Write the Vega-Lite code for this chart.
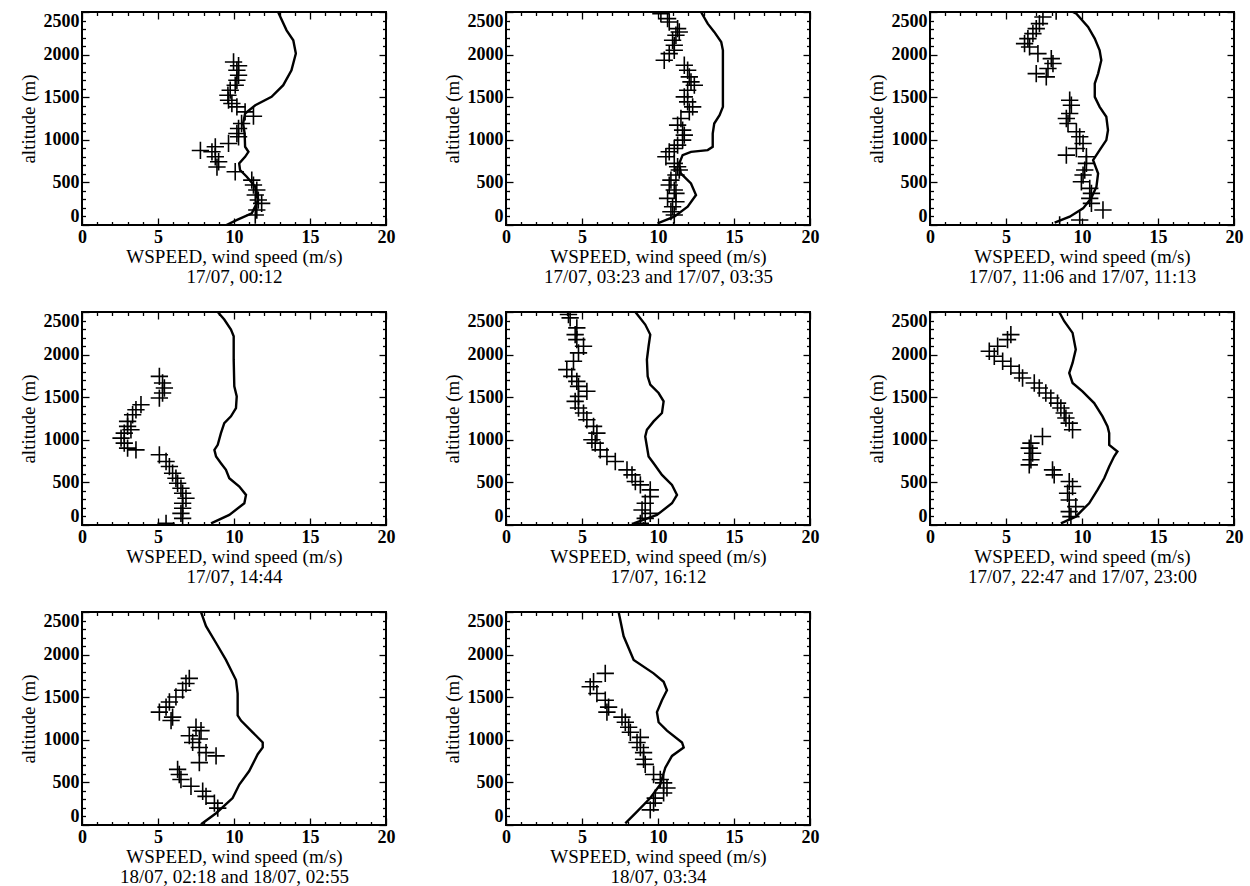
{
"$schema":"https://vega.github.io/schema/vega-lite/v6.json",
"background":"white",
"padding":{"left":18,"top":10,"right":5,"bottom":0},
"datasets":{
"mod":[
{"p":1,"ws":9.5,"alt":0},{"p":1,"ws":10.2,"alt":60},{"p":1,"ws":11.17,"alt":137},{"p":1,"ws":11.6,"alt":293},{"p":1,"ws":11.4,"alt":450},{"p":1,"ws":10.84,"alt":566},{"p":1,"ws":10.4,"alt":645},{"p":1,"ws":10.34,"alt":723},{"p":1,"ws":10.73,"alt":800},{"p":1,"ws":10.95,"alt":859},{"p":1,"ws":10.73,"alt":918},{"p":1,"ws":10.7,"alt":1074},{"p":1,"ws":10.6,"alt":1191},{"p":1,"ws":10.73,"alt":1309},{"p":1,"ws":11.4,"alt":1406},{"p":1,"ws":12.47,"alt":1504},{"p":1,"ws":13.24,"alt":1641},{"p":1,"ws":13.78,"alt":1816},{"p":1,"ws":14.07,"alt":2012},{"p":1,"ws":13.9,"alt":2168},{"p":1,"ws":13.46,"alt":2285},{"p":1,"ws":12.9,"alt":2500},
{"p":2,"ws":9.97,"alt":20},{"p":2,"ws":11.07,"alt":98},{"p":2,"ws":11.95,"alt":215},{"p":2,"ws":12.5,"alt":352},{"p":2,"ws":12.17,"alt":488},{"p":2,"ws":11.5,"alt":605},{"p":2,"ws":11.4,"alt":723},{"p":2,"ws":11.62,"alt":820},{"p":2,"ws":12.17,"alt":859},{"p":2,"ws":13.27,"alt":879},{"p":2,"ws":13.6,"alt":918},{"p":2,"ws":13.6,"alt":1074},{"p":2,"ws":13.7,"alt":1191},{"p":2,"ws":14.05,"alt":1289},{"p":2,"ws":14.27,"alt":1387},{"p":2,"ws":14.27,"alt":1660},{"p":2,"ws":14.27,"alt":2051},{"p":2,"ws":14.16,"alt":2148},{"p":2,"ws":13.7,"alt":2266},{"p":2,"ws":13.27,"alt":2363},{"p":2,"ws":12.83,"alt":2500},
{"p":3,"ws":8.2,"alt":27},{"p":3,"ws":9.19,"alt":98},{"p":3,"ws":10.07,"alt":195},{"p":3,"ws":10.6,"alt":313},{"p":3,"ws":10.95,"alt":449},{"p":3,"ws":11.06,"alt":605},{"p":3,"ws":10.73,"alt":762},{"p":3,"ws":11.16,"alt":879},{"p":3,"ws":11.6,"alt":996},{"p":3,"ws":11.71,"alt":1113},{"p":3,"ws":11.6,"alt":1270},{"p":3,"ws":11.16,"alt":1387},{"p":3,"ws":10.84,"alt":1504},{"p":3,"ws":10.84,"alt":1660},{"p":3,"ws":11.06,"alt":1777},{"p":3,"ws":11.27,"alt":1934},{"p":3,"ws":11.16,"alt":2051},{"p":3,"ws":10.84,"alt":2188},{"p":3,"ws":10.4,"alt":2324},{"p":3,"ws":9.63,"alt":2480},{"p":3,"ws":9.4,"alt":2500},
{"p":4,"ws":8.49,"alt":20},{"p":4,"ws":9.69,"alt":118},{"p":4,"ws":10.68,"alt":255},{"p":4,"ws":10.79,"alt":353},{"p":4,"ws":10.35,"alt":451},{"p":4,"ws":9.69,"alt":549},{"p":4,"ws":9.47,"alt":647},{"p":4,"ws":9.14,"alt":725},{"p":4,"ws":8.82,"alt":804},{"p":4,"ws":8.71,"alt":882},{"p":4,"ws":8.93,"alt":941},{"p":4,"ws":9.14,"alt":1078},{"p":4,"ws":9.36,"alt":1196},{"p":4,"ws":9.8,"alt":1275},{"p":4,"ws":10.13,"alt":1373},{"p":4,"ws":10.18,"alt":1510},{"p":4,"ws":10.02,"alt":1627},{"p":4,"ws":9.98,"alt":1941},{"p":4,"ws":9.98,"alt":2216},{"p":4,"ws":9.8,"alt":2294},{"p":4,"ws":9.36,"alt":2412},{"p":4,"ws":8.93,"alt":2500},
{"p":5,"ws":8.4,"alt":20},{"p":5,"ws":9.93,"alt":118},{"p":5,"ws":10.92,"alt":255},{"p":5,"ws":11.25,"alt":353},{"p":5,"ws":10.92,"alt":471},{"p":5,"ws":10.26,"alt":588},{"p":5,"ws":9.71,"alt":725},{"p":5,"ws":9.38,"alt":804},{"p":5,"ws":9.27,"alt":922},{"p":5,"ws":9.16,"alt":1039},{"p":5,"ws":9.27,"alt":1118},{"p":5,"ws":9.71,"alt":1216},{"p":5,"ws":10.26,"alt":1314},{"p":5,"ws":10.37,"alt":1451},{"p":5,"ws":10.04,"alt":1549},{"p":5,"ws":9.49,"alt":1647},{"p":5,"ws":9.32,"alt":1745},{"p":5,"ws":9.27,"alt":1941},{"p":5,"ws":9.38,"alt":2098},{"p":5,"ws":9.49,"alt":2235},{"p":5,"ws":9.16,"alt":2353},{"p":5,"ws":8.51,"alt":2500},
{"p":6,"ws":8.61,"alt":20},{"p":6,"ws":9.59,"alt":98},{"p":6,"ws":10.47,"alt":255},{"p":6,"ws":11.02,"alt":412},{"p":6,"ws":11.46,"alt":549},{"p":6,"ws":11.79,"alt":686},{"p":6,"ws":12.11,"alt":804},{"p":6,"ws":12.33,"alt":863},{"p":6,"ws":11.79,"alt":941},{"p":6,"ws":11.79,"alt":1078},{"p":6,"ws":11.68,"alt":1157},{"p":6,"ws":11.35,"alt":1275},{"p":6,"ws":10.8,"alt":1431},{"p":6,"ws":10.03,"alt":1569},{"p":6,"ws":9.38,"alt":1667},{"p":6,"ws":9.16,"alt":1784},{"p":6,"ws":9.38,"alt":1902},{"p":6,"ws":9.59,"alt":2059},{"p":6,"ws":9.38,"alt":2255},{"p":6,"ws":8.83,"alt":2392},{"p":6,"ws":8.5,"alt":2500},
{"p":7,"ws":7.83,"alt":8},{"p":7,"ws":8.82,"alt":138},{"p":7,"ws":9.91,"alt":316},{"p":7,"ws":10.35,"alt":475},{"p":7,"ws":11.0,"alt":633},{"p":7,"ws":11.56,"alt":831},{"p":7,"ws":11.89,"alt":910},{"p":7,"ws":11.89,"alt":969},{"p":7,"ws":11.23,"alt":1088},{"p":7,"ws":10.46,"alt":1226},{"p":7,"ws":10.24,"alt":1286},{"p":7,"ws":10.24,"alt":1543},{"p":7,"ws":10.13,"alt":1701},{"p":7,"ws":9.47,"alt":1938},{"p":7,"ws":8.82,"alt":2136},{"p":7,"ws":8.16,"alt":2334},{"p":7,"ws":7.83,"alt":2500},
{"p":8,"ws":7.85,"alt":20},{"p":8,"ws":8.62,"alt":158},{"p":8,"ws":9.49,"alt":316},{"p":8,"ws":10.15,"alt":475},{"p":8,"ws":10.48,"alt":672},{"p":8,"ws":10.92,"alt":811},{"p":8,"ws":11.69,"alt":910},{"p":8,"ws":11.58,"alt":969},{"p":8,"ws":10.59,"alt":1108},{"p":8,"ws":10.04,"alt":1206},{"p":8,"ws":9.93,"alt":1325},{"p":8,"ws":10.26,"alt":1464},{"p":8,"ws":10.59,"alt":1582},{"p":8,"ws":10.37,"alt":1681},{"p":8,"ws":9.71,"alt":1780},{"p":8,"ws":8.4,"alt":1938},{"p":8,"ws":7.74,"alt":2215},{"p":8,"ws":7.41,"alt":2500}
],
"obs":[
{"p":1,"ws":9.97,"alt":1914},{"p":1,"ws":10.3,"alt":1870},{"p":1,"ws":10.19,"alt":1816},{"p":1,"ws":10.3,"alt":1758},{"p":1,"ws":10.19,"alt":1699},{"p":1,"ws":10.08,"alt":1641},{"p":1,"ws":9.75,"alt":1582},{"p":1,"ws":9.6,"alt":1523},{"p":1,"ws":9.64,"alt":1465},{"p":1,"ws":9.86,"alt":1426},{"p":1,"ws":10.19,"alt":1387},{"p":1,"ws":10.73,"alt":1328},{"p":1,"ws":11.28,"alt":1277},{"p":1,"ws":10.5,"alt":1191},{"p":1,"ws":10.3,"alt":1133},{"p":1,"ws":10.19,"alt":1074},{"p":1,"ws":10.3,"alt":1035},{"p":1,"ws":9.64,"alt":957},{"p":1,"ws":8.77,"alt":918},{"p":1,"ws":8.55,"alt":859},{"p":1,"ws":7.79,"alt":875},{"p":1,"ws":8.77,"alt":801},{"p":1,"ws":8.99,"alt":742},{"p":1,"ws":8.88,"alt":680},{"p":1,"ws":10.08,"alt":625},{"p":1,"ws":11.17,"alt":527},{"p":1,"ws":11.28,"alt":469},{"p":1,"ws":11.5,"alt":410},{"p":1,"ws":11.4,"alt":352},{"p":1,"ws":11.6,"alt":293},{"p":1,"ws":11.82,"alt":254},{"p":1,"ws":11.5,"alt":176},{"p":1,"ws":11.4,"alt":117},
{"p":2,"ws":10.19,"alt":2480},{"p":2,"ws":10.63,"alt":2422},{"p":2,"ws":10.74,"alt":2383},{"p":2,"ws":11.29,"alt":2305},{"p":2,"ws":11.4,"alt":2266},{"p":2,"ws":11.18,"alt":2227},{"p":2,"ws":10.96,"alt":2168},{"p":2,"ws":11.07,"alt":2109},{"p":2,"ws":11.07,"alt":2051},{"p":2,"ws":10.74,"alt":2012},{"p":2,"ws":10.41,"alt":1934},{"p":2,"ws":11.73,"alt":1875},{"p":2,"ws":11.95,"alt":1816},{"p":2,"ws":12.06,"alt":1738},{"p":2,"ws":12.17,"alt":1680},{"p":2,"ws":12.39,"alt":1641},{"p":2,"ws":11.95,"alt":1582},{"p":2,"ws":11.73,"alt":1504},{"p":2,"ws":11.95,"alt":1445},{"p":2,"ws":12.28,"alt":1387},{"p":2,"ws":12.06,"alt":1328},{"p":2,"ws":11.51,"alt":1250},{"p":2,"ws":11.29,"alt":1172},{"p":2,"ws":11.62,"alt":1113},{"p":2,"ws":11.73,"alt":1055},{"p":2,"ws":11.62,"alt":996},{"p":2,"ws":11.29,"alt":938},{"p":2,"ws":11.07,"alt":898},{"p":2,"ws":10.74,"alt":859},{"p":2,"ws":10.52,"alt":801},{"p":2,"ws":11.07,"alt":723},{"p":2,"ws":11.29,"alt":684},{"p":2,"ws":11.4,"alt":645},{"p":2,"ws":11.18,"alt":586},{"p":2,"ws":10.85,"alt":527},{"p":2,"ws":10.74,"alt":469},{"p":2,"ws":11.07,"alt":410},{"p":2,"ws":11.18,"alt":371},{"p":2,"ws":10.63,"alt":313},{"p":2,"ws":11.18,"alt":273},{"p":2,"ws":10.96,"alt":215},{"p":2,"ws":10.85,"alt":156},{"p":2,"ws":11.07,"alt":117},
{"p":3,"ws":8.3,"alt":2510},{"p":3,"ws":7.43,"alt":2441},{"p":3,"ws":7.2,"alt":2363},{"p":3,"ws":6.99,"alt":2305},{"p":3,"ws":6.77,"alt":2246},{"p":3,"ws":6.44,"alt":2188},{"p":3,"ws":6.22,"alt":2129},{"p":3,"ws":6.55,"alt":2090},{"p":3,"ws":7.1,"alt":2012},{"p":3,"ws":7.98,"alt":1953},{"p":3,"ws":8.09,"alt":1895},{"p":3,"ws":7.76,"alt":1836},{"p":3,"ws":6.99,"alt":1777},{"p":3,"ws":7.65,"alt":1738},{"p":3,"ws":9.19,"alt":1465},{"p":3,"ws":9.3,"alt":1406},{"p":3,"ws":9.19,"alt":1309},{"p":3,"ws":8.97,"alt":1250},{"p":3,"ws":9.08,"alt":1191},{"p":3,"ws":9.63,"alt":1094},{"p":3,"ws":9.85,"alt":1035},{"p":3,"ws":10.07,"alt":957},{"p":3,"ws":9.63,"alt":898},{"p":3,"ws":8.97,"alt":820},{"p":3,"ws":10.29,"alt":801},{"p":3,"ws":10.29,"alt":723},{"p":3,"ws":10.18,"alt":645},{"p":3,"ws":10.07,"alt":586},{"p":3,"ws":9.96,"alt":508},{"p":3,"ws":10.51,"alt":430},{"p":3,"ws":10.62,"alt":371},{"p":3,"ws":10.51,"alt":313},{"p":3,"ws":10.62,"alt":254},{"p":3,"ws":11.38,"alt":176},{"p":3,"ws":9.85,"alt":59},{"p":3,"ws":8.53,"alt":0},
{"p":4,"ws":5.09,"alt":1745},{"p":4,"ws":5.3,"alt":1667},{"p":4,"ws":5.42,"alt":1608},{"p":4,"ws":5.3,"alt":1549},{"p":4,"ws":5.09,"alt":1490},{"p":4,"ws":3.88,"alt":1412},{"p":4,"ws":3.55,"alt":1353},{"p":4,"ws":3.33,"alt":1294},{"p":4,"ws":3.0,"alt":1216},{"p":4,"ws":3.0,"alt":1157},{"p":4,"ws":3.22,"alt":1118},{"p":4,"ws":2.78,"alt":1078},{"p":4,"ws":2.57,"alt":1020},{"p":4,"ws":2.78,"alt":961},{"p":4,"ws":3.0,"alt":902},{"p":4,"ws":3.55,"alt":882},{"p":4,"ws":5.09,"alt":824},{"p":4,"ws":5.53,"alt":745},{"p":4,"ws":5.75,"alt":686},{"p":4,"ws":5.96,"alt":608},{"p":4,"ws":6.18,"alt":549},{"p":4,"ws":6.29,"alt":490},{"p":4,"ws":6.51,"alt":431},{"p":4,"ws":6.62,"alt":373},{"p":4,"ws":6.84,"alt":314},{"p":4,"ws":6.62,"alt":255},{"p":4,"ws":6.62,"alt":196},{"p":4,"ws":6.51,"alt":137},{"p":4,"ws":6.62,"alt":78},{"p":4,"ws":5.53,"alt":20},
{"p":5,"ws":4.11,"alt":2471},{"p":5,"ws":4.22,"alt":2431},{"p":5,"ws":4.66,"alt":2314},{"p":5,"ws":4.55,"alt":2235},{"p":5,"ws":4.66,"alt":2176},{"p":5,"ws":5.1,"alt":2098},{"p":5,"ws":4.77,"alt":2020},{"p":5,"ws":4.44,"alt":1922},{"p":5,"ws":4.0,"alt":1824},{"p":5,"ws":4.33,"alt":1745},{"p":5,"ws":4.66,"alt":1686},{"p":5,"ws":4.77,"alt":1627},{"p":5,"ws":5.32,"alt":1569},{"p":5,"ws":4.77,"alt":1510},{"p":5,"ws":4.55,"alt":1451},{"p":5,"ws":4.77,"alt":1373},{"p":5,"ws":5.1,"alt":1314},{"p":5,"ws":5.32,"alt":1235},{"p":5,"ws":5.76,"alt":1157},{"p":5,"ws":5.98,"alt":1078},{"p":5,"ws":5.65,"alt":1000},{"p":5,"ws":5.87,"alt":961},{"p":5,"ws":6.2,"alt":882},{"p":5,"ws":6.64,"alt":804},{"p":5,"ws":7.19,"alt":745},{"p":5,"ws":7.96,"alt":647},{"p":5,"ws":8.29,"alt":588},{"p":5,"ws":8.51,"alt":510},{"p":5,"ws":8.84,"alt":471},{"p":5,"ws":9.49,"alt":412},{"p":5,"ws":9.49,"alt":333},{"p":5,"ws":9.16,"alt":255},{"p":5,"ws":8.95,"alt":176},{"p":5,"ws":9.49,"alt":137},{"p":5,"ws":9.16,"alt":78},{"p":5,"ws":8.84,"alt":20},
{"p":6,"ws":5.32,"alt":2235},{"p":6,"ws":5.1,"alt":2176},{"p":6,"ws":4.45,"alt":2098},{"p":6,"ws":3.9,"alt":2039},{"p":6,"ws":4.23,"alt":1980},{"p":6,"ws":4.78,"alt":1922},{"p":6,"ws":5.32,"alt":1863},{"p":6,"ws":5.87,"alt":1784},{"p":6,"ws":6.09,"alt":1725},{"p":6,"ws":6.86,"alt":1667},{"p":6,"ws":7.19,"alt":1608},{"p":6,"ws":7.62,"alt":1549},{"p":6,"ws":7.95,"alt":1490},{"p":6,"ws":8.39,"alt":1431},{"p":6,"ws":8.61,"alt":1373},{"p":6,"ws":8.83,"alt":1314},{"p":6,"ws":8.94,"alt":1255},{"p":6,"ws":9.16,"alt":1196},{"p":6,"ws":9.38,"alt":1118},{"p":6,"ws":7.4,"alt":1039},{"p":6,"ws":6.64,"alt":961},{"p":6,"ws":6.53,"alt":902},{"p":6,"ws":6.75,"alt":843},{"p":6,"ws":6.64,"alt":765},{"p":6,"ws":6.53,"alt":706},{"p":6,"ws":8.06,"alt":647},{"p":6,"ws":8.17,"alt":588},{"p":6,"ws":9.16,"alt":510},{"p":6,"ws":9.38,"alt":451},{"p":6,"ws":9.05,"alt":373},{"p":6,"ws":9.16,"alt":294},{"p":6,"ws":9.59,"alt":216},{"p":6,"ws":9.16,"alt":157},{"p":6,"ws":9.27,"alt":98},
{"p":7,"ws":7.06,"alt":1721},{"p":7,"ws":6.84,"alt":1661},{"p":7,"ws":6.62,"alt":1582},{"p":7,"ws":6.18,"alt":1503},{"p":7,"ws":5.75,"alt":1444},{"p":7,"ws":5.53,"alt":1384},{"p":7,"ws":5.09,"alt":1325},{"p":7,"ws":5.96,"alt":1266},{"p":7,"ws":5.86,"alt":1226},{"p":7,"ws":7.5,"alt":1147},{"p":7,"ws":7.83,"alt":1108},{"p":7,"ws":7.06,"alt":1048},{"p":7,"ws":7.72,"alt":1009},{"p":7,"ws":7.28,"alt":969},{"p":7,"ws":7.72,"alt":910},{"p":7,"ws":8.16,"alt":850},{"p":7,"ws":8.82,"alt":811},{"p":7,"ws":7.72,"alt":732},{"p":7,"ws":6.29,"alt":653},{"p":7,"ws":6.4,"alt":593},{"p":7,"ws":6.51,"alt":534},{"p":7,"ws":7.17,"alt":455},{"p":7,"ws":7.94,"alt":396},{"p":7,"ws":8.16,"alt":336},{"p":7,"ws":8.71,"alt":257},{"p":7,"ws":8.93,"alt":198},
{"p":8,"ws":6.53,"alt":1780},{"p":8,"ws":5.76,"alt":1681},{"p":8,"ws":5.54,"alt":1622},{"p":8,"ws":5.98,"alt":1543},{"p":8,"ws":6.53,"alt":1464},{"p":8,"ws":6.75,"alt":1384},{"p":8,"ws":6.64,"alt":1325},{"p":8,"ws":7.63,"alt":1266},{"p":8,"ws":7.85,"alt":1206},{"p":8,"ws":8.07,"alt":1147},{"p":8,"ws":8.18,"alt":1088},{"p":8,"ws":8.84,"alt":1028},{"p":8,"ws":8.62,"alt":969},{"p":8,"ws":8.84,"alt":910},{"p":8,"ws":9.05,"alt":850},{"p":8,"ws":9.05,"alt":771},{"p":8,"ws":9.16,"alt":712},{"p":8,"ws":9.71,"alt":593},{"p":8,"ws":10.15,"alt":534},{"p":8,"ws":10.37,"alt":494},{"p":8,"ws":10.59,"alt":435},{"p":8,"ws":10.37,"alt":376},{"p":8,"ws":9.82,"alt":316},{"p":8,"ws":9.71,"alt":257},{"p":8,"ws":9.49,"alt":178}
]
},
"columns":3,
"spacing":{"row":22,"column":46},
"concat":[
{"width":304,"height":213,"resolve":{"axis":{"x":"independent","y":"independent"}},"layer":[
{"data":{"name":"mod"},"transform":[{"filter":"datum.p==1"}],"mark":{"type":"line","color":"black","strokeWidth":2.4,"clip":true},"encoding":{"x":{"field":"ws","type":"quantitative","scale":{"domain":[0,20],"nice":false,"zero":false},"axis":{"values":[0,1,2,3,4,5,6,7,8,9,10,11,12,13,14,15,16,17,18,19,20],"labelExpr":"datum.value % 5 === 0 ? datum.label : ''","tickSize":{"condition":{"test":"datum.value % 5 === 0","value":-7},"value":-3.5},"title":["WSPEED, wind speed (m/s)","17/07, 00:12"]}},"y":{"field":"alt","type":"quantitative","scale":{"domain":[0,2500],"nice":false},"axis":{"values":[0,100,200,300,400,500,600,700,800,900,1000,1100,1200,1300,1400,1500,1600,1700,1800,1900,2000,2100,2200,2300,2400,2500],"labelExpr":"datum.value % 500 === 0 ? datum.label : ''","tickSize":{"condition":{"test":"datum.value % 500 === 0","value":-7},"value":-3.5},"labelFlush":true,"title":"altitude (m)"}},"order":{"field":"alt","type":"quantitative"}}},
{"data":{"name":"obs"},"transform":[{"filter":"datum.p==1"}],"mark":{"type":"point","shape":"M-1,0L1,0M0,-1L0,1","filled":false,"color":"black","strokeWidth":1.6,"size":300,"opacity":1,"clip":true},"encoding":{"x":{"field":"ws","type":"quantitative","axis":{"orient":"top","values":[0,1,2,3,4,5,6,7,8,9,10,11,12,13,14,15,16,17,18,19,20],"labels":false,"tickSize":{"condition":{"test":"datum.value % 5 === 0","value":-7},"value":-3.5},"title":null}},"y":{"field":"alt","type":"quantitative","axis":{"orient":"right","values":[0,100,200,300,400,500,600,700,800,900,1000,1100,1200,1300,1400,1500,1600,1700,1800,1900,2000,2100,2200,2300,2400,2500],"labels":false,"tickSize":{"condition":{"test":"datum.value % 500 === 0","value":-7},"value":-3.5},"title":null}}}}
]},
{"width":304,"height":213,"resolve":{"axis":{"x":"independent","y":"independent"}},"layer":[
{"data":{"name":"mod"},"transform":[{"filter":"datum.p==2"}],"mark":{"type":"line","color":"black","strokeWidth":2.4,"clip":true},"encoding":{"x":{"field":"ws","type":"quantitative","scale":{"domain":[0,20],"nice":false,"zero":false},"axis":{"values":[0,1,2,3,4,5,6,7,8,9,10,11,12,13,14,15,16,17,18,19,20],"labelExpr":"datum.value % 5 === 0 ? datum.label : ''","tickSize":{"condition":{"test":"datum.value % 5 === 0","value":-7},"value":-3.5},"title":["WSPEED, wind speed (m/s)","17/07, 03:23 and 17/07, 03:35"]}},"y":{"field":"alt","type":"quantitative","scale":{"domain":[0,2500],"nice":false},"axis":{"values":[0,100,200,300,400,500,600,700,800,900,1000,1100,1200,1300,1400,1500,1600,1700,1800,1900,2000,2100,2200,2300,2400,2500],"labelExpr":"datum.value % 500 === 0 ? datum.label : ''","tickSize":{"condition":{"test":"datum.value % 500 === 0","value":-7},"value":-3.5},"labelFlush":true,"title":"altitude (m)"}},"order":{"field":"alt","type":"quantitative"}}},
{"data":{"name":"obs"},"transform":[{"filter":"datum.p==2"}],"mark":{"type":"point","shape":"M-1,0L1,0M0,-1L0,1","filled":false,"color":"black","strokeWidth":1.6,"size":300,"opacity":1,"clip":true},"encoding":{"x":{"field":"ws","type":"quantitative","axis":{"orient":"top","values":[0,1,2,3,4,5,6,7,8,9,10,11,12,13,14,15,16,17,18,19,20],"labels":false,"tickSize":{"condition":{"test":"datum.value % 5 === 0","value":-7},"value":-3.5},"title":null}},"y":{"field":"alt","type":"quantitative","axis":{"orient":"right","values":[0,100,200,300,400,500,600,700,800,900,1000,1100,1200,1300,1400,1500,1600,1700,1800,1900,2000,2100,2200,2300,2400,2500],"labels":false,"tickSize":{"condition":{"test":"datum.value % 500 === 0","value":-7},"value":-3.5},"title":null}}}}
]},
{"width":304,"height":213,"resolve":{"axis":{"x":"independent","y":"independent"}},"layer":[
{"data":{"name":"mod"},"transform":[{"filter":"datum.p==3"}],"mark":{"type":"line","color":"black","strokeWidth":2.4,"clip":true},"encoding":{"x":{"field":"ws","type":"quantitative","scale":{"domain":[0,20],"nice":false,"zero":false},"axis":{"values":[0,1,2,3,4,5,6,7,8,9,10,11,12,13,14,15,16,17,18,19,20],"labelExpr":"datum.value % 5 === 0 ? datum.label : ''","tickSize":{"condition":{"test":"datum.value % 5 === 0","value":-7},"value":-3.5},"title":["WSPEED, wind speed (m/s)","17/07, 11:06 and 17/07, 11:13"]}},"y":{"field":"alt","type":"quantitative","scale":{"domain":[0,2500],"nice":false},"axis":{"values":[0,100,200,300,400,500,600,700,800,900,1000,1100,1200,1300,1400,1500,1600,1700,1800,1900,2000,2100,2200,2300,2400,2500],"labelExpr":"datum.value % 500 === 0 ? datum.label : ''","tickSize":{"condition":{"test":"datum.value % 500 === 0","value":-7},"value":-3.5},"labelFlush":true,"title":"altitude (m)"}},"order":{"field":"alt","type":"quantitative"}}},
{"data":{"name":"obs"},"transform":[{"filter":"datum.p==3"}],"mark":{"type":"point","shape":"M-1,0L1,0M0,-1L0,1","filled":false,"color":"black","strokeWidth":1.6,"size":300,"opacity":1,"clip":true},"encoding":{"x":{"field":"ws","type":"quantitative","axis":{"orient":"top","values":[0,1,2,3,4,5,6,7,8,9,10,11,12,13,14,15,16,17,18,19,20],"labels":false,"tickSize":{"condition":{"test":"datum.value % 5 === 0","value":-7},"value":-3.5},"title":null}},"y":{"field":"alt","type":"quantitative","axis":{"orient":"right","values":[0,100,200,300,400,500,600,700,800,900,1000,1100,1200,1300,1400,1500,1600,1700,1800,1900,2000,2100,2200,2300,2400,2500],"labels":false,"tickSize":{"condition":{"test":"datum.value % 500 === 0","value":-7},"value":-3.5},"title":null}}}}
]},
{"width":304,"height":213,"resolve":{"axis":{"x":"independent","y":"independent"}},"layer":[
{"data":{"name":"mod"},"transform":[{"filter":"datum.p==4"}],"mark":{"type":"line","color":"black","strokeWidth":2.4,"clip":true},"encoding":{"x":{"field":"ws","type":"quantitative","scale":{"domain":[0,20],"nice":false,"zero":false},"axis":{"values":[0,1,2,3,4,5,6,7,8,9,10,11,12,13,14,15,16,17,18,19,20],"labelExpr":"datum.value % 5 === 0 ? datum.label : ''","tickSize":{"condition":{"test":"datum.value % 5 === 0","value":-7},"value":-3.5},"title":["WSPEED, wind speed (m/s)","17/07, 14:44"]}},"y":{"field":"alt","type":"quantitative","scale":{"domain":[0,2500],"nice":false},"axis":{"values":[0,100,200,300,400,500,600,700,800,900,1000,1100,1200,1300,1400,1500,1600,1700,1800,1900,2000,2100,2200,2300,2400,2500],"labelExpr":"datum.value % 500 === 0 ? datum.label : ''","tickSize":{"condition":{"test":"datum.value % 500 === 0","value":-7},"value":-3.5},"labelFlush":true,"title":"altitude (m)"}},"order":{"field":"alt","type":"quantitative"}}},
{"data":{"name":"obs"},"transform":[{"filter":"datum.p==4"}],"mark":{"type":"point","shape":"M-1,0L1,0M0,-1L0,1","filled":false,"color":"black","strokeWidth":1.6,"size":300,"opacity":1,"clip":true},"encoding":{"x":{"field":"ws","type":"quantitative","axis":{"orient":"top","values":[0,1,2,3,4,5,6,7,8,9,10,11,12,13,14,15,16,17,18,19,20],"labels":false,"tickSize":{"condition":{"test":"datum.value % 5 === 0","value":-7},"value":-3.5},"title":null}},"y":{"field":"alt","type":"quantitative","axis":{"orient":"right","values":[0,100,200,300,400,500,600,700,800,900,1000,1100,1200,1300,1400,1500,1600,1700,1800,1900,2000,2100,2200,2300,2400,2500],"labels":false,"tickSize":{"condition":{"test":"datum.value % 500 === 0","value":-7},"value":-3.5},"title":null}}}}
]},
{"width":304,"height":213,"resolve":{"axis":{"x":"independent","y":"independent"}},"layer":[
{"data":{"name":"mod"},"transform":[{"filter":"datum.p==5"}],"mark":{"type":"line","color":"black","strokeWidth":2.4,"clip":true},"encoding":{"x":{"field":"ws","type":"quantitative","scale":{"domain":[0,20],"nice":false,"zero":false},"axis":{"values":[0,1,2,3,4,5,6,7,8,9,10,11,12,13,14,15,16,17,18,19,20],"labelExpr":"datum.value % 5 === 0 ? datum.label : ''","tickSize":{"condition":{"test":"datum.value % 5 === 0","value":-7},"value":-3.5},"title":["WSPEED, wind speed (m/s)","17/07, 16:12"]}},"y":{"field":"alt","type":"quantitative","scale":{"domain":[0,2500],"nice":false},"axis":{"values":[0,100,200,300,400,500,600,700,800,900,1000,1100,1200,1300,1400,1500,1600,1700,1800,1900,2000,2100,2200,2300,2400,2500],"labelExpr":"datum.value % 500 === 0 ? datum.label : ''","tickSize":{"condition":{"test":"datum.value % 500 === 0","value":-7},"value":-3.5},"labelFlush":true,"title":"altitude (m)"}},"order":{"field":"alt","type":"quantitative"}}},
{"data":{"name":"obs"},"transform":[{"filter":"datum.p==5"}],"mark":{"type":"point","shape":"M-1,0L1,0M0,-1L0,1","filled":false,"color":"black","strokeWidth":1.6,"size":300,"opacity":1,"clip":true},"encoding":{"x":{"field":"ws","type":"quantitative","axis":{"orient":"top","values":[0,1,2,3,4,5,6,7,8,9,10,11,12,13,14,15,16,17,18,19,20],"labels":false,"tickSize":{"condition":{"test":"datum.value % 5 === 0","value":-7},"value":-3.5},"title":null}},"y":{"field":"alt","type":"quantitative","axis":{"orient":"right","values":[0,100,200,300,400,500,600,700,800,900,1000,1100,1200,1300,1400,1500,1600,1700,1800,1900,2000,2100,2200,2300,2400,2500],"labels":false,"tickSize":{"condition":{"test":"datum.value % 500 === 0","value":-7},"value":-3.5},"title":null}}}}
]},
{"width":304,"height":213,"resolve":{"axis":{"x":"independent","y":"independent"}},"layer":[
{"data":{"name":"mod"},"transform":[{"filter":"datum.p==6"}],"mark":{"type":"line","color":"black","strokeWidth":2.4,"clip":true},"encoding":{"x":{"field":"ws","type":"quantitative","scale":{"domain":[0,20],"nice":false,"zero":false},"axis":{"values":[0,1,2,3,4,5,6,7,8,9,10,11,12,13,14,15,16,17,18,19,20],"labelExpr":"datum.value % 5 === 0 ? datum.label : ''","tickSize":{"condition":{"test":"datum.value % 5 === 0","value":-7},"value":-3.5},"title":["WSPEED, wind speed (m/s)","17/07, 22:47 and 17/07, 23:00"]}},"y":{"field":"alt","type":"quantitative","scale":{"domain":[0,2500],"nice":false},"axis":{"values":[0,100,200,300,400,500,600,700,800,900,1000,1100,1200,1300,1400,1500,1600,1700,1800,1900,2000,2100,2200,2300,2400,2500],"labelExpr":"datum.value % 500 === 0 ? datum.label : ''","tickSize":{"condition":{"test":"datum.value % 500 === 0","value":-7},"value":-3.5},"labelFlush":true,"title":"altitude (m)"}},"order":{"field":"alt","type":"quantitative"}}},
{"data":{"name":"obs"},"transform":[{"filter":"datum.p==6"}],"mark":{"type":"point","shape":"M-1,0L1,0M0,-1L0,1","filled":false,"color":"black","strokeWidth":1.6,"size":300,"opacity":1,"clip":true},"encoding":{"x":{"field":"ws","type":"quantitative","axis":{"orient":"top","values":[0,1,2,3,4,5,6,7,8,9,10,11,12,13,14,15,16,17,18,19,20],"labels":false,"tickSize":{"condition":{"test":"datum.value % 5 === 0","value":-7},"value":-3.5},"title":null}},"y":{"field":"alt","type":"quantitative","axis":{"orient":"right","values":[0,100,200,300,400,500,600,700,800,900,1000,1100,1200,1300,1400,1500,1600,1700,1800,1900,2000,2100,2200,2300,2400,2500],"labels":false,"tickSize":{"condition":{"test":"datum.value % 500 === 0","value":-7},"value":-3.5},"title":null}}}}
]},
{"width":304,"height":213,"resolve":{"axis":{"x":"independent","y":"independent"}},"layer":[
{"data":{"name":"mod"},"transform":[{"filter":"datum.p==7"}],"mark":{"type":"line","color":"black","strokeWidth":2.4,"clip":true},"encoding":{"x":{"field":"ws","type":"quantitative","scale":{"domain":[0,20],"nice":false,"zero":false},"axis":{"values":[0,1,2,3,4,5,6,7,8,9,10,11,12,13,14,15,16,17,18,19,20],"labelExpr":"datum.value % 5 === 0 ? datum.label : ''","tickSize":{"condition":{"test":"datum.value % 5 === 0","value":-7},"value":-3.5},"title":["WSPEED, wind speed (m/s)","18/07, 02:18 and 18/07, 02:55"]}},"y":{"field":"alt","type":"quantitative","scale":{"domain":[0,2500],"nice":false},"axis":{"values":[0,100,200,300,400,500,600,700,800,900,1000,1100,1200,1300,1400,1500,1600,1700,1800,1900,2000,2100,2200,2300,2400,2500],"labelExpr":"datum.value % 500 === 0 ? datum.label : ''","tickSize":{"condition":{"test":"datum.value % 500 === 0","value":-7},"value":-3.5},"labelFlush":true,"title":"altitude (m)"}},"order":{"field":"alt","type":"quantitative"}}},
{"data":{"name":"obs"},"transform":[{"filter":"datum.p==7"}],"mark":{"type":"point","shape":"M-1,0L1,0M0,-1L0,1","filled":false,"color":"black","strokeWidth":1.6,"size":300,"opacity":1,"clip":true},"encoding":{"x":{"field":"ws","type":"quantitative","axis":{"orient":"top","values":[0,1,2,3,4,5,6,7,8,9,10,11,12,13,14,15,16,17,18,19,20],"labels":false,"tickSize":{"condition":{"test":"datum.value % 5 === 0","value":-7},"value":-3.5},"title":null}},"y":{"field":"alt","type":"quantitative","axis":{"orient":"right","values":[0,100,200,300,400,500,600,700,800,900,1000,1100,1200,1300,1400,1500,1600,1700,1800,1900,2000,2100,2200,2300,2400,2500],"labels":false,"tickSize":{"condition":{"test":"datum.value % 500 === 0","value":-7},"value":-3.5},"title":null}}}}
]},
{"width":304,"height":213,"resolve":{"axis":{"x":"independent","y":"independent"}},"layer":[
{"data":{"name":"mod"},"transform":[{"filter":"datum.p==8"}],"mark":{"type":"line","color":"black","strokeWidth":2.4,"clip":true},"encoding":{"x":{"field":"ws","type":"quantitative","scale":{"domain":[0,20],"nice":false,"zero":false},"axis":{"values":[0,1,2,3,4,5,6,7,8,9,10,11,12,13,14,15,16,17,18,19,20],"labelExpr":"datum.value % 5 === 0 ? datum.label : ''","tickSize":{"condition":{"test":"datum.value % 5 === 0","value":-7},"value":-3.5},"title":["WSPEED, wind speed (m/s)","18/07, 03:34"]}},"y":{"field":"alt","type":"quantitative","scale":{"domain":[0,2500],"nice":false},"axis":{"values":[0,100,200,300,400,500,600,700,800,900,1000,1100,1200,1300,1400,1500,1600,1700,1800,1900,2000,2100,2200,2300,2400,2500],"labelExpr":"datum.value % 500 === 0 ? datum.label : ''","tickSize":{"condition":{"test":"datum.value % 500 === 0","value":-7},"value":-3.5},"labelFlush":true,"title":"altitude (m)"}},"order":{"field":"alt","type":"quantitative"}}},
{"data":{"name":"obs"},"transform":[{"filter":"datum.p==8"}],"mark":{"type":"point","shape":"M-1,0L1,0M0,-1L0,1","filled":false,"color":"black","strokeWidth":1.6,"size":300,"opacity":1,"clip":true},"encoding":{"x":{"field":"ws","type":"quantitative","axis":{"orient":"top","values":[0,1,2,3,4,5,6,7,8,9,10,11,12,13,14,15,16,17,18,19,20],"labels":false,"tickSize":{"condition":{"test":"datum.value % 5 === 0","value":-7},"value":-3.5},"title":null}},"y":{"field":"alt","type":"quantitative","axis":{"orient":"right","values":[0,100,200,300,400,500,600,700,800,900,1000,1100,1200,1300,1400,1500,1600,1700,1800,1900,2000,2100,2200,2300,2400,2500],"labels":false,"tickSize":{"condition":{"test":"datum.value % 500 === 0","value":-7},"value":-3.5},"title":null}}}}
]}
],
"config":{
"view":{"stroke":"black","strokeWidth":2},
"axis":{"domain":false,"grid":false,"tickColor":"black","tickWidth":1.3,"labelFont":"Liberation Serif","labelFontSize":18,"labelFontWeight":"bold","labelColor":"black","labelPadding":10,"labelOverlap":false,"titleFont":"Liberation Serif","titleFontSize":19,"titleFontWeight":"normal","titleColor":"black","titleLineHeight":20,"format":"d"},
"axisX":{"titlePadding":-2,"labelFlush":false},
"axisY":{"titlePadding":5}
}
}
